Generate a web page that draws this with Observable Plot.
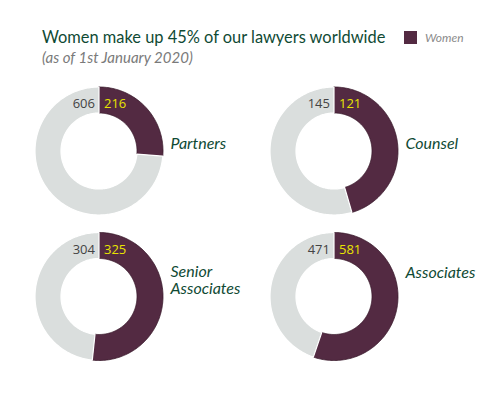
<!DOCTYPE html>
<html><head><meta charset="utf-8">
<script src="https://cdn.jsdelivr.net/npm/d3@7"></script>
<script src="https://cdn.jsdelivr.net/npm/@observablehq/plot@0.6"></script>
<style>
body{margin:0;background:#fff;}
#wrap{position:relative;width:500px;height:393px;font-family:Lato,sans-serif;overflow:hidden;}
#title{position:absolute;left:42px;top:27px;font-size:16.4px;line-height:20px;color:#0f4a34;white-space:nowrap;}
#subtitle{position:absolute;left:42px;top:47px;font-size:15px;line-height:20px;color:#7a7a7a;font-style:italic;white-space:nowrap;}
#legend{position:absolute;left:404px;top:30px;display:flex;align-items:center;font-size:12px;color:#8a8a8a;font-style:italic;}
#legend .sw{width:13px;height:13px;background:#532a42;margin-right:8px;}
#chart{position:absolute;left:0;top:72px;}
</style></head>
<body>
<div id="wrap">
  <div id="title">Women make up 45% of our lawyers worldwide</div>
  <div id="subtitle">(as of 1st January 2020)</div>
  <div id="legend"><div class="sw"></div><span>Women</span></div>
  <div id="chart"></div>
</div>
<script>
// ---- data ----
const categories = ["Partners", "Counsel", "Senior\nAssociates", "Associates"];
const women = [216, 121, 325, 581];
const men = [606, 145, 304, 471];
const groups = ["Women", "Men"];

// ---- layout (not data) ----
const W = 500, H = 321;
const colX = [98.5, 333.5];
const rowY = [78.5, 224];
const R0 = 38, R1 = 64;
const center = i => ({cx: colX[i % 2], cy: rowY[Math.floor(i / 2)]});

// build slice polygons from the values
const slices = [];
categories.forEach((cat, i) => {
  const {cx, cy} = center(i);
  const total = women[i] + men[i];
  const parts = [[ "Women", 0, women[i] / total * 2 * Math.PI ], [ "Men", women[i] / total * 2 * Math.PI, 2 * Math.PI ]];
  for (const [g, a0, a1] of parts) {
    const n = Math.max(2, Math.ceil((a1 - a0) / 0.02));
    const key = cat + "|" + g;
    for (let k = 0; k <= n; k++) {
      const a = a0 + (a1 - a0) * k / n;
      slices.push({key, group: g, x: cx + R1 * Math.sin(a), y: cy - R1 * Math.cos(a)});
    }
    for (let k = n; k >= 0; k--) {
      const a = a0 + (a1 - a0) * k / n;
      slices.push({key, group: g, x: cx + R0 * Math.sin(a), y: cy - R0 * Math.cos(a)});
    }
    const a = a0;
    slices.push({key, group: g, x: cx + R1 * Math.sin(a), y: cy - R1 * Math.cos(a)});
  }
});

const labels = categories.map((c, i) => {
  const {cx, cy} = center(i);
  return {label: c, w: women[i], m: men[i], cx, cy};
});

const chart = Plot.plot({
  width: W, height: H,
  margin: 0,
  x: {domain: [0, W], range: [0, W], axis: null},
  y: {domain: [0, H], range: [0, H], axis: null},
  color: {domain: groups, range: ["#532a42", "#dadedd"]},
  style: {fontFamily: "Lato, sans-serif", background: "#fff"},
  marks: [
    Plot.line(slices.filter(d => d.group === "Women"), {x: "x", y: "y", z: "key", fill: "group", stroke: "#3a1a2c", strokeWidth: 0.8, curve: "linear"}),
    Plot.line(slices.filter(d => d.group === "Men"), {x: "x", y: "y", z: "key", fill: "group", stroke: "#fff", strokeWidth: 1.2, curve: "linear"}),
    Plot.text(labels, {x: "cx", y: d => d.cy - 47, text: d => String(d.m), textAnchor: "end", dx: -4, fill: "#444", fontSize: 13, fontFamily: "Open Sans, sans-serif"}),
    Plot.text(labels, {x: "cx", y: d => d.cy - 47, text: d => String(d.w), textAnchor: "start", dx: 5, fill: "#e8e400", fontSize: 13, fontFamily: "Open Sans, sans-serif"}),
    Plot.text(labels, {x: d => d.cx + 71.5, y: (d, i) => d.cy - (i < 2 ? 8 : (d.label.includes("\n") ? 16.5 : 24)), text: "label", textAnchor: "start", fill: "#0f4a34", fontSize: 16, fontStyle: "italic", lineHeight: 1.1})
  ]
});
document.getElementById("chart").appendChild(chart);
</script>
</body></html>
